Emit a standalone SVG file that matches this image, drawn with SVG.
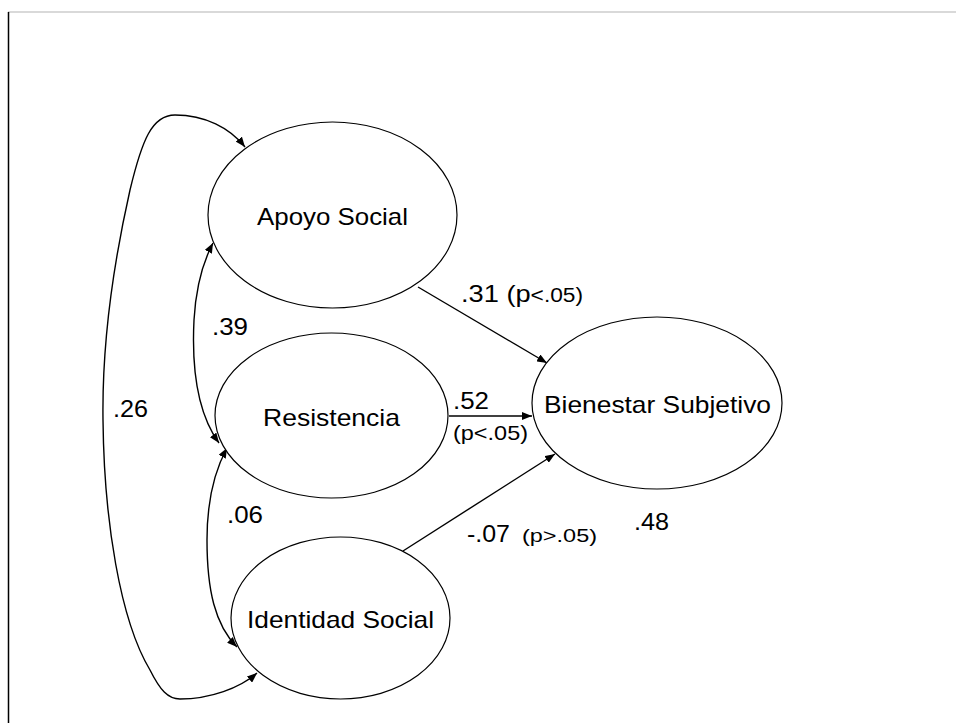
<svg xmlns="http://www.w3.org/2000/svg" width="956" height="723" viewBox="0 0 956 723">
<defs>
<marker id="ah" viewBox="0 0 10 8" refX="10" refY="4" markerWidth="10" markerHeight="8" markerUnits="userSpaceOnUse" orient="auto-start-reverse">
<path d="M0,0 L10,4 L0,8 z" fill="#000"/>
</marker>
<style>
.node ellipse{fill:#fff;stroke:#000;stroke-width:1.2}
.lbl{font-family:"Liberation Sans",Arial,sans-serif;fill:#000}
.nt{font-size:24px;text-anchor:start}
.conn path,.conn line{fill:none;stroke:#000;stroke-width:1.4}
</style>
</defs>
<rect width="956" height="723" fill="#fff"/>
<line x1="8" y1="12" x2="956" y2="12" stroke="#cccccc" stroke-width="1.5"/>
<line x1="8.5" y1="12" x2="8.5" y2="723" stroke="#000" stroke-width="1.5"/>

<g id="connectors" class="conn">
<path d="M245,147 C230,128 205,115 175,115 C152,115 142,140 130,190 C112,270 102,350 103,420 C104,520 120,620 150,670 C160,690 168,699 180,699 C210,699 240,688 257,673" marker-start="url(#ah)" marker-end="url(#ah)"/>
<path d="M213,243 C203,262 196,285 194,320 C192,360 195,410 219,443" marker-start="url(#ah)" marker-end="url(#ah)"/>
<path d="M227,448 C215,470 207,500 207,540 C207,590 215,625 237,647" marker-start="url(#ah)" marker-end="url(#ah)"/>
<line x1="418" y1="287" x2="547" y2="363" marker-end="url(#ah)"/>
<line x1="449" y1="416" x2="532" y2="416" marker-end="url(#ah)"/>
<line x1="403" y1="551" x2="555" y2="454" marker-end="url(#ah)"/>
</g>

<g id="apoyo" class="node">
<ellipse cx="332.5" cy="215" rx="124.5" ry="93"/>
<text class="lbl nt" x="257" y="225" textLength="151" lengthAdjust="spacingAndGlyphs">Apoyo Social</text>
</g>
<g id="resistencia" class="node">
<ellipse cx="331.5" cy="415.5" rx="116.5" ry="82.5"/>
<text class="lbl nt" x="263" y="426" textLength="137" lengthAdjust="spacingAndGlyphs">Resistencia</text>
</g>
<g id="identidad" class="node">
<ellipse cx="340.5" cy="618" rx="109.5" ry="81"/>
<text class="lbl nt" x="247" y="628" textLength="187" lengthAdjust="spacingAndGlyphs">Identidad Social</text>
</g>
<g id="bienestar" class="node">
<ellipse cx="657" cy="403" rx="125" ry="86"/>
<text class="lbl nt" x="544" y="413" textLength="227" lengthAdjust="spacingAndGlyphs">Bienestar Subjetivo</text>
</g>

<g id="labels">
<text class="lbl" x="461" y="302" font-size="24" textLength="122" lengthAdjust="spacingAndGlyphs">.31 (p<tspan font-size="20">&lt;.05)</tspan></text>
<text class="lbl" x="453" y="409" font-size="24" textLength="36" lengthAdjust="spacingAndGlyphs">.52</text>
<text class="lbl" x="453" y="440" font-size="21" textLength="75" lengthAdjust="spacingAndGlyphs">(p&lt;.05)</text>
<text class="lbl" x="467" y="542" font-size="24" textLength="43" lengthAdjust="spacingAndGlyphs">-.07</text>
<text class="lbl" x="522" y="542" font-size="19" textLength="75" lengthAdjust="spacingAndGlyphs">(p&gt;.05)</text>
<text class="lbl" x="634" y="530" font-size="24" textLength="35" lengthAdjust="spacingAndGlyphs">.48</text>
<text class="lbl" x="113" y="417" font-size="24" textLength="35" lengthAdjust="spacingAndGlyphs">.26</text>
<text class="lbl" x="212" y="335" font-size="24" textLength="36" lengthAdjust="spacingAndGlyphs">.39</text>
<text class="lbl" x="227" y="523" font-size="24" textLength="36" lengthAdjust="spacingAndGlyphs">.06</text>
</g>
</svg>
